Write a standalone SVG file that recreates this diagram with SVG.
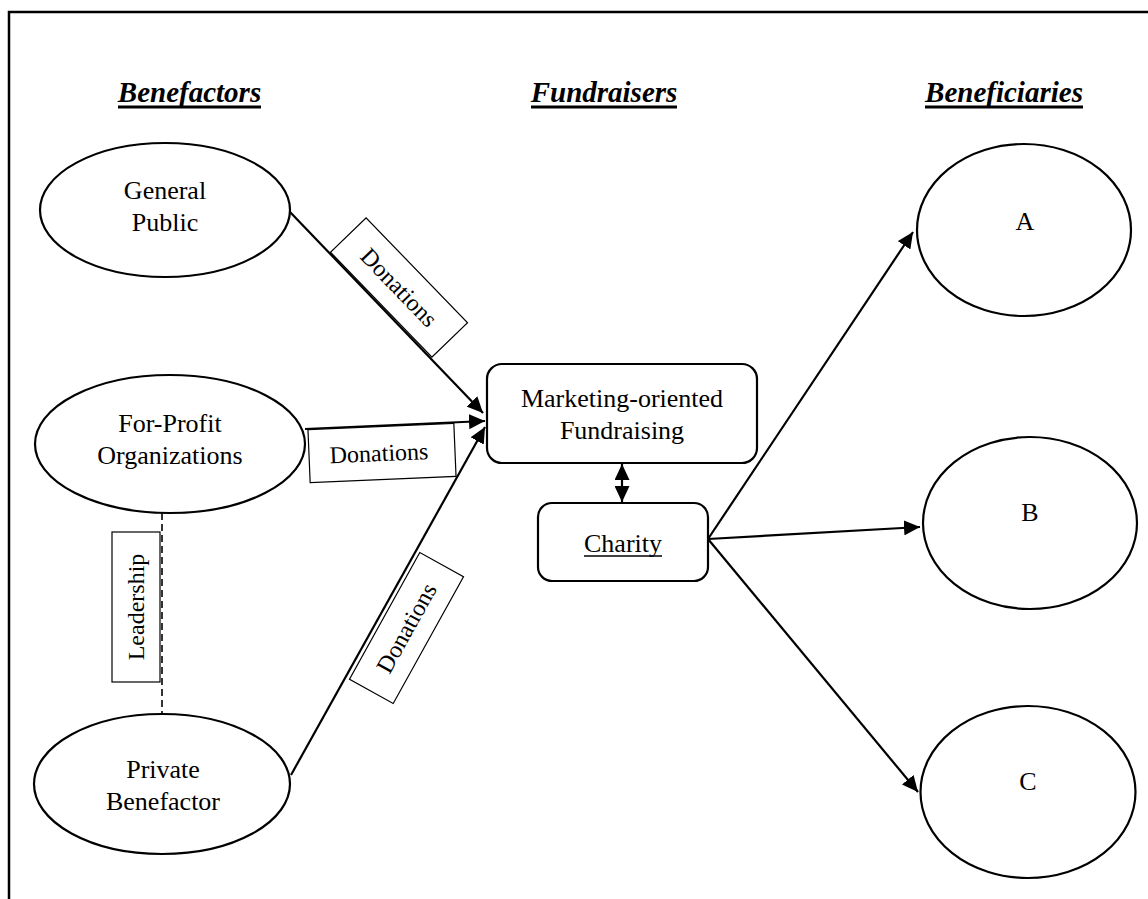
<svg xmlns="http://www.w3.org/2000/svg" width="1148" height="899" viewBox="0 0 1148 899">
  <style>
    .frame { fill: none; stroke: #000; stroke-width: 2.5; }
    .node { fill: #fff; stroke: #000; stroke-width: 2.2; }
    .tag { fill: #fff; stroke: #000; stroke-width: 1.2; }
    .edge { fill: none; stroke: #000; stroke-width: 2.2; }
    .dash { fill: none; stroke: #000; stroke-width: 1.6; stroke-dasharray: 7 4; }
    .t { font-family: "Liberation Serif", "Times New Roman", serif; font-size: 26px; fill: #000; text-anchor: middle; }
    .lbl { font-family: "Liberation Serif", "Times New Roman", serif; font-size: 24px; fill: #000; text-anchor: middle; }
    .hdr { font-family: "Liberation Serif", "Times New Roman", serif; font-size: 29px; font-weight: bold; font-style: italic; fill: #000; text-anchor: middle; }
    .ul { stroke: #000; stroke-width: 3; }
  </style>
  <defs>
    <marker id="arrow" markerUnits="userSpaceOnUse" markerWidth="17" markerHeight="15" viewBox="0 0 17 15" refX="16" refY="7.5" orient="auto-start-reverse">
      <path d="M0,0 L16,7.5 L0,15 z" fill="#000"/>
    </marker>
  </defs>

  <rect width="1148" height="899" fill="#fff"/>

  <!-- outer frame: top and left edges -->
  <path class="frame" d="M9,899 L9,12 L1148,12"/>

  <!-- column headings -->
  <g id="headings">
    <text class="hdr" x="189.5" y="102">Benefactors</text>
    <line class="ul" x1="118" y1="107" x2="261" y2="107"/>
    <text class="hdr" x="604" y="102">Fundraisers</text>
    <line class="ul" x1="531" y1="107" x2="677" y2="107"/>
    <text class="hdr" x="1004" y="102">Beneficiaries</text>
    <line class="ul" x1="925" y1="107" x2="1083" y2="107"/>
  </g>

  <!-- connectors -->
  <g id="connectors">
    <line class="edge" x1="290" y1="212" x2="483" y2="413" marker-end="url(#arrow)"/>
    <line class="edge" x1="305" y1="429" x2="485" y2="421" marker-end="url(#arrow)"/>
    <line class="edge" x1="291" y1="775" x2="485" y2="427" marker-end="url(#arrow)"/>
    <line class="edge" x1="622" y1="464" x2="622" y2="502" marker-start="url(#arrow)" marker-end="url(#arrow)"/>
    <line class="edge" x1="708" y1="539" x2="913" y2="232" marker-end="url(#arrow)"/>
    <line class="edge" x1="708" y1="539" x2="920" y2="527" marker-end="url(#arrow)"/>
    <line class="edge" x1="708" y1="539" x2="918" y2="792" marker-end="url(#arrow)"/>
    <line class="dash" x1="162" y1="513" x2="162" y2="713"/>
  </g>

  <!-- connector labels -->
  <g id="label-donations-public" transform="translate(399,287.5) rotate(46)">
    <rect class="tag" x="-73" y="-24.75" width="146" height="49.5"/>
    <text class="lbl" x="0" y="8">Donations</text>
  </g>
  <g id="label-donations-forprofit" transform="translate(382,453) rotate(-2.4)">
    <rect class="tag" x="-73" y="-26.5" width="146" height="53"/>
    <text class="lbl" x="-3" y="8">Donations</text>
  </g>
  <g id="label-donations-private" transform="translate(406.5,628) rotate(-61)">
    <rect class="tag" x="-72.5" y="-25" width="145" height="50"/>
    <text class="lbl" x="0" y="8">Donations</text>
  </g>
  <g id="label-leadership">
    <rect class="tag" x="112" y="532" width="48" height="150"/>
    <text class="lbl" transform="translate(136,607) rotate(-90)" x="0" y="8">Leadership</text>
  </g>

  <!-- benefactors -->
  <g id="general-public">
    <ellipse class="node" cx="165" cy="210" rx="125" ry="67"/>
    <text class="t" x="165" y="199">General</text>
    <text class="t" x="165" y="231">Public</text>
  </g>
  <g id="for-profit">
    <ellipse class="node" cx="170" cy="444" rx="135" ry="69"/>
    <text class="t" x="170" y="432">For-Profit</text>
    <text class="t" x="170" y="464">Organizations</text>
  </g>
  <g id="private-benefactor">
    <ellipse class="node" cx="162" cy="784" rx="128" ry="70"/>
    <text class="t" x="163" y="778">Private</text>
    <text class="t" x="163" y="810">Benefactor</text>
  </g>

  <!-- fundraisers -->
  <g id="marketing-fundraising">
    <rect class="node" x="487" y="364" width="270" height="99" rx="15"/>
    <text class="t" x="622" y="407">Marketing-oriented</text>
    <text class="t" x="622" y="439">Fundraising</text>
  </g>
  <g id="charity">
    <rect class="node" x="538" y="503" width="170" height="78" rx="14"/>
    <text class="t" x="623" y="552">Charity</text>
    <line x1="584" y1="556" x2="662" y2="556" stroke="#000" stroke-width="1.5"/>
  </g>

  <!-- beneficiaries -->
  <g id="beneficiary-a">
    <ellipse class="node" cx="1024" cy="230" rx="107" ry="86"/>
    <text class="t" x="1025" y="230">A</text>
  </g>
  <g id="beneficiary-b">
    <ellipse class="node" cx="1030" cy="523" rx="107" ry="86"/>
    <text class="t" x="1030" y="521">B</text>
  </g>
  <g id="beneficiary-c">
    <ellipse class="node" cx="1028" cy="792" rx="107.5" ry="86"/>
    <text class="t" x="1028" y="790">C</text>
  </g>
</svg>
